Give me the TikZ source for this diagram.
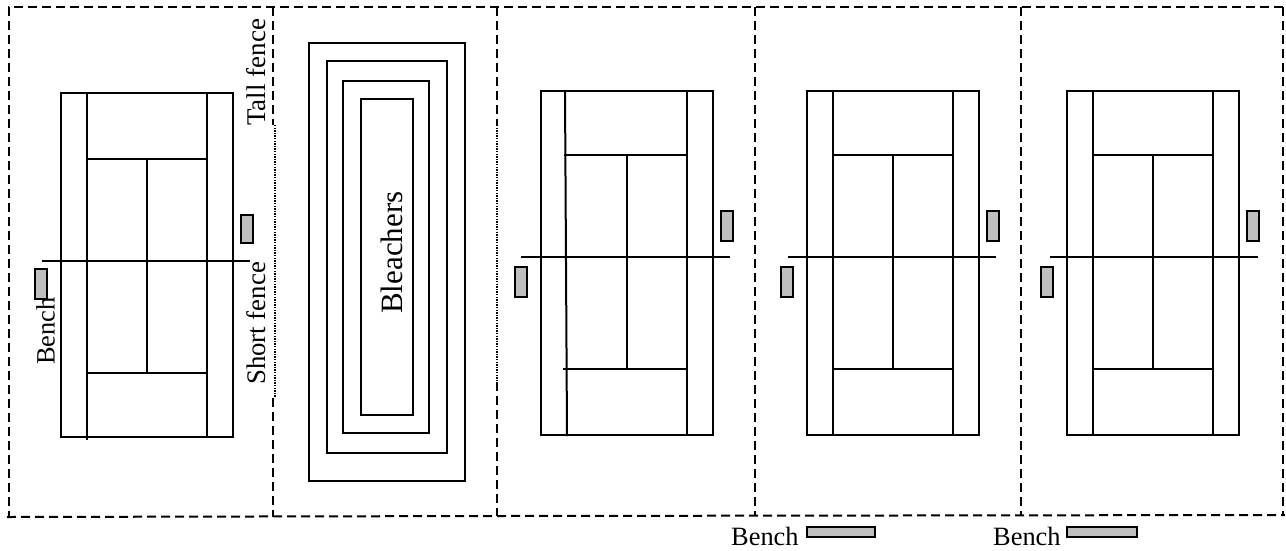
\documentclass[tikz,border=0pt]{standalone}
\usepackage{fontspec}
\setmainfont{Liberation Serif}
\tikzset{
  fence/.style={line width=2pt,dash pattern=on 9pt off 5pt},
  shortfence/.style={line width=2pt,dash pattern=on 1.3pt off 1.3pt},
  courtline/.style={line width=2pt,line cap=rect},
  benchbox/.style={draw,line width=2pt,fill=black!25},
  stand/.style={draw,line width=2pt},
  lbl/.style={inner sep=0pt,font=\fontsize{26.4}{30}\selectfont},
  vlbl/.style={lbl,rotate=90,anchor=base west},
  hlbl/.style={lbl,anchor=base west}
}
\newcommand{\tenniscourt}[9]{%
 \draw[courtline] (#1,#2) rectangle ++(172,344);
 \draw[courtline] (#3,#2) -- (#4,#8);
 \draw[courtline] (#1+146,#2) -- ++(0,344);
 \draw[courtline] (#3,#2+#9) -- (#1+146,#2+#9);
 \draw[courtline] (#7,#2+#9+214) -- (#1+146,#2+#9+214);
 \draw[courtline] (#1+86,#2+#9) -- (#1+86,#2+#9+214);
 \draw[courtline] (#5,#2+#9+102) -- (#6,#2+#9+102);
}
\begin{document}
\begin{tikzpicture}[x=1pt,y=-1pt]
\useasboundingbox (0,0) rectangle (1286,550);
% fences
\draw[fence] (1283,7) -- (9,7) -- (9,517);
\draw[fence] (7,517) -- (497,516) -- (1285,515);
\draw[fence] (1283,7) -- (1283,515);
\draw[fence] (273,7) -- (273,125);
\draw[shortfence] (275,125) -- (275,398);
\draw[fence] (273,398) -- (273,517);
\draw[fence] (497,7) -- (497,125);
\draw[shortfence] (497,125) -- (497,382);
\draw[fence] (497,382) -- (497,516);
\draw[fence] (755,7) -- (755,516);
\draw[fence] (1021,7) -- (1021,516);
% courts
\tenniscourt{61}{93}{87}{87}{43}{249}{87}{439}{66}
\tenniscourt{541}{91}{565}{567}{522}{729}{564}{435}{64}
\tenniscourt{807}{91}{833}{833}{789}{995}{833}{435}{64}
\tenniscourt{1067}{91}{1093}{1093}{1051}{1257}{1093}{435}{64}
% benches
\path[benchbox] (241,215) rectangle (253,243);
\path[benchbox] (35,269) rectangle (47,299);
\path[benchbox] (721,211) rectangle (733,241);
\path[benchbox] (515,267) rectangle (527,297);
\path[benchbox] (987,211) rectangle (999,241);
\path[benchbox] (781,267) rectangle (793,297);
\path[benchbox] (1247,211) rectangle (1259,241);
\path[benchbox] (1041,267) rectangle (1053,297);
\path[benchbox] (807,527) rectangle (875,537);
\path[benchbox] (1067,527) rectangle (1137,537);
% bleachers
\path[stand] (309,43) rectangle (465,481);
\path[stand] (327,61) rectangle (447,453);
\path[stand] (343,81) rectangle (429,433);
\path[stand] (361,99) rectangle (413,415);
% labels
\node[vlbl] (bench1) at (54.5,365) {Bench};
\node[vlbl] (tall) at (265,126) {\fontsize{27}{30}\selectfont Tall fence};
\node[vlbl] (short) at (265,385) {\fontsize{26.8}{30}\selectfont Short fence};
\node[vlbl] (bleach) at (402,314) {\fontsize{31}{32}\selectfont Bleachers};
\node[hlbl] (bench2) at (731,545) {Bench};
\node[hlbl] (bench3) at (993,545) {Bench};
\end{tikzpicture}
\end{document}
